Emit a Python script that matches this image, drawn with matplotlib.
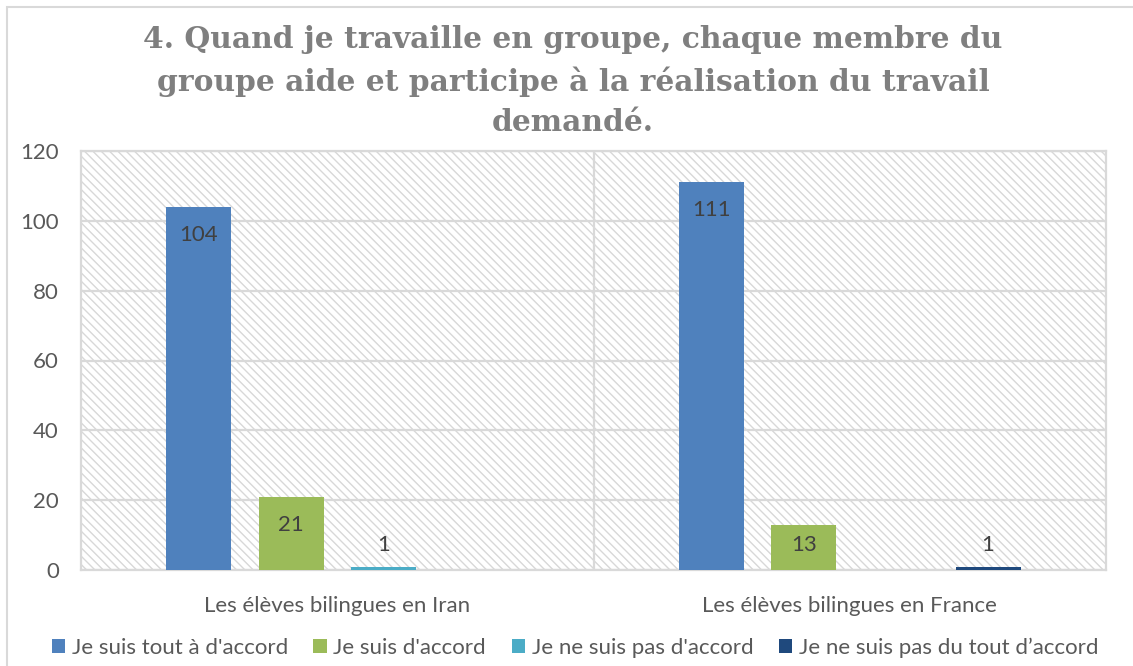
import numpy as np
import matplotlib
matplotlib.use('Agg')
import matplotlib.pyplot as plt
from matplotlib.patches import Rectangle

# survey answers per group
groups = ['Les élèves bilingues en Iran', 'Les élèves bilingues en France']
answers = ["Je suis tout à d'accord", "Je suis d'accord",
           "Je ne suis pas d'accord", "Je ne suis pas du tout d’accord"]
iran = [104, 21, 1, 0]
france = [111, 13, 0, 1]
colors = ['#4F81BD', '#9BBB59', '#4BACC6', '#1F497D']
title = ("4. Quand je travaille en groupe, chaque membre du\n"
         "groupe aide et participe à la réalisation du travail\n"
         "demandé.")

plt.rcParams['font.family'] = ['Lato', 'DejaVu Sans']
plt.rcParams['hatch.linewidth'] = 1.0
grid = '#D9D9D9'
txt = '#595959'
fs = 16

fig = plt.figure(figsize=(11.33, 6.66), dpi=100)
ax = fig.add_axes([81 / 1133, 96 / 666, 1025 / 1133, 419 / 666])

# hatched plot area
ax.add_patch(Rectangle((0, 0), 1, 1, transform=ax.transAxes, facecolor='white',
                       edgecolor='#D8D8D8', hatch='\\\\\\\\', lw=0, zorder=0))
ax.set_facecolor('white')

values = np.array([iran, france])
x = np.arange(len(groups))
step, width = 0.18, 0.127
for i, (name, col) in enumerate(zip(answers, colors)):
    xs = x + (i - 1.5) * step
    vals = values[:, i]
    ax.bar(xs, vals, width, color=col, label=name, zorder=3)
    for xv, v in zip(xs, vals):
        if v == 0:
            continue
        if v > 15:
            off = -28
        elif v > 5:
            off = -20
        else:
            off = 22
        ax.annotate(str(v), (xv, v), xytext=(0, off), textcoords='offset pixels',
                    ha='center', va='center', fontsize=fs, color='#404040', zorder=4)

ax.set_xlim(-0.5, 1.5)
ax.set_ylim(0, 120)
ax.set_yticks(range(0, 121, 20))
ax.set_xticks(x)
ax.set_xticklabels(groups)
ax.yaxis.grid(True, color=grid, lw=1.6, zorder=1)
ax.axvline(0.5, color=grid, lw=1.6, zorder=1)
ax.set_axisbelow(True)
ax.tick_params(length=0, labelsize=fs, labelcolor=txt)
ax.tick_params(axis='y', pad=16)
ax.tick_params(axis='x', pad=19)
for s in ax.spines.values():
    s.set_color(grid)
    s.set_linewidth(1.6)

fig.text(573 / 1133, 1 - 81 / 666, title, ha='center', va='center', fontsize=21.4,
         fontweight='bold', color='#7F7F7F', family='DejaVu Serif',
         linespacing=1.5)

fig.legend(loc='center', bbox_to_anchor=(575 / 1133, 1 - 648 / 666), ncol=4,
           frameon=False, fontsize=fs, labelcolor=txt, handlelength=0.6,
           handleheight=0.6, handletextpad=0.3, columnspacing=1.15)

# outer chart border
fig.add_artist(Rectangle((7 / 1133, -0.1), 1.2, 1.1 - 7 / 666, transform=fig.transFigure,
                         fill=False, edgecolor=grid, lw=1.5))

fig.savefig('out.png', dpi=100)
